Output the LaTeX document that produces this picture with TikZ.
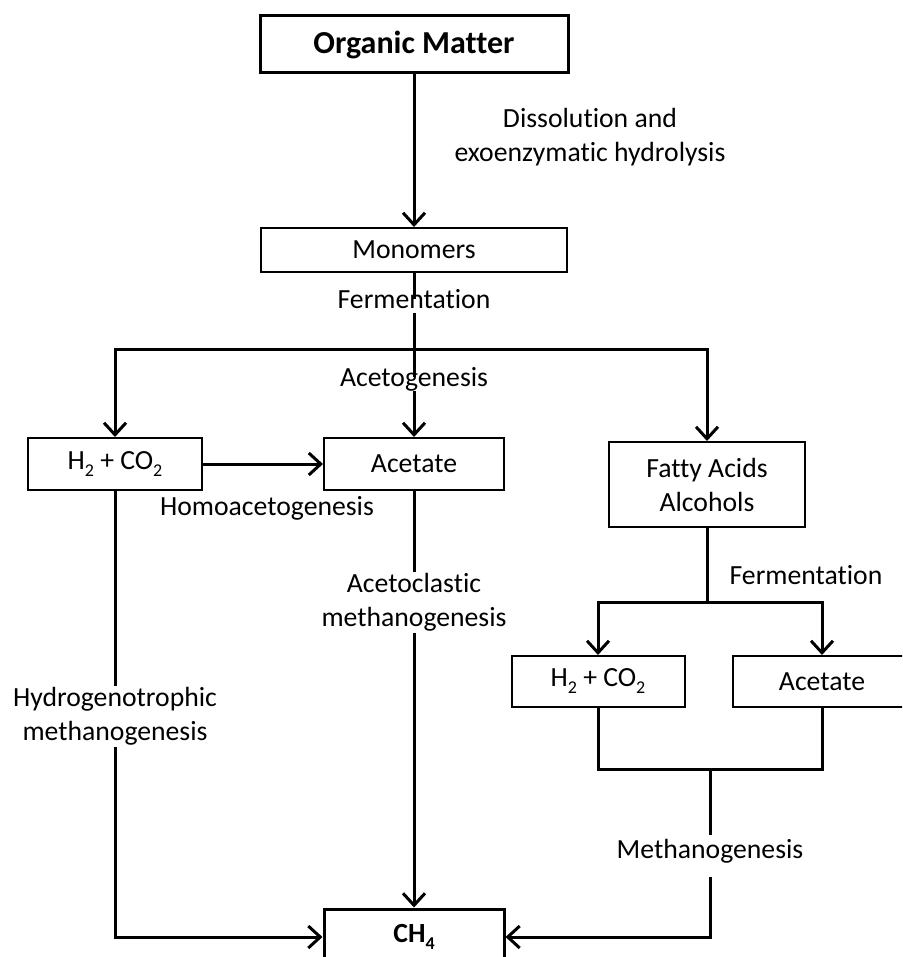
\documentclass[tikz,border=0pt]{standalone}
\usepackage{fontspec}
\setmainfont{Carlito}[Ligatures={NoCommon}]
\usetikzlibrary{arrows.meta}
\newcommand\mysub[1]{\raisebox{-7pt}{\fontsize{18}{18}\selectfont #1}}
\begin{document}
\begin{tikzpicture}[x=1pt,y=-1pt,
  every node/.style={font=\fontsize{27.7}{34}\selectfont},
  box/.style={draw, line width=2pt, inner sep=0pt, align=center},
  conn/.style={line width=3pt},
  arr/.style={conn, -{Straight Barb[length=12pt,width=22pt]}},
  lbl/.style={fill=white, inner xsep=2pt, align=center},
  one/.style={text height=0.75em, text depth=0.25em, inner ysep=2pt},
  two/.style={inner ysep=1.5pt}]
\useasboundingbox (0,0) rectangle (902,957);
\clip (0,0) rectangle (902,957);
% boxes
\node[box, line width=3pt, minimum width=308pt, minimum height=57pt, font=\fontsize{32}{38}\selectfont\bfseries] (om) at (414,44.5) {Organic Matter};
\node[box, minimum width=306pt, minimum height=44pt] (mono) at (414,250) {Monomers};
\node[box, minimum width=174pt, minimum height=52pt] (h2a) at (115,464) {H\mysub{2} + CO\mysub{2}};
\node[box, minimum width=180pt, minimum height=52pt] (aca) at (414,464) {Acetate};
\node[box, minimum width=196pt, minimum height=85pt] (fa) at (707,484.5) {Fatty Acids\\Alcohols};
\node[box, minimum width=173pt, minimum height=51pt] (h2b) at (598,681.5) {H\mysub{2} + CO\mysub{2}};
\node[box, minimum width=178pt, minimum height=51pt] (acb) at (822,681.5) {Acetate};
\node[box, line width=3pt, minimum width=180pt, minimum height=56pt] (ch4) at (414,937) {\textbf{CH\mysub{\bfseries 4}}};
% junctions
\coordinate (j1) at (414,349);
\coordinate (j2) at (707,602);
\coordinate (k3) at (710,769);
% connectors
\draw[arr] (om) -- (mono);
\draw[conn] (mono.south) -- (j1);
\draw[arr] (j1) -| (h2a.north);
\draw[arr] (j1) -| (fa.north);
\draw[arr] (j1) -- (aca.north);
\draw[arr] (h2a) -- (aca);
\draw[arr] (aca) -- (ch4);
\draw[arr] (h2a.south) |- (ch4.west);
\draw[conn] (fa.south) -- (j2);
\draw[arr] (j2) -| (h2b.north);
\draw[arr] (j2) -| (acb.north);
\draw[conn] (h2b.south) |- (k3) -| (acb.south);
\draw[arr] (k3) |- (ch4.east);
% labels
\node[align=center] (l1) at (590,137) {Dissolution and\\exoenzymatic hydrolysis};
\node[lbl, one] (l2) at (414,306) {Fermentation};
\node[lbl, one] (l3) at (414,384) {Acetogenesis};
\node (l4) at (267,508) {Homoacetogenesis};
\node[lbl, two] (l5) at (414,602) {Acetoclastic\\methanogenesis};
\node[lbl, two] (l6) at (115,716) {Hydrogenotrophic\\methanogenesis};
\node (l7) at (806,575) {Fermentation};
\node[lbl, one, inner ysep=16pt] (l8) at (710,856) {Methanogenesis};
\end{tikzpicture}
\end{document}
